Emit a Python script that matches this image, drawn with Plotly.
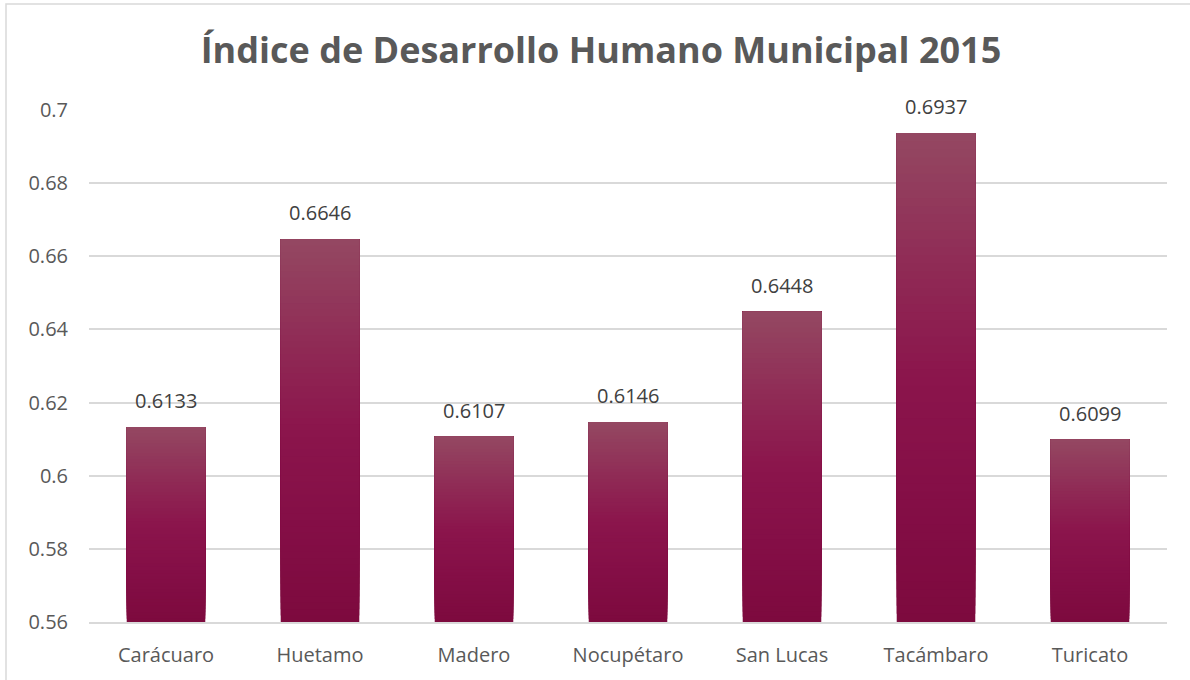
import plotly.graph_objects as go

categories = ["Carácuaro", "Huetamo", "Madero", "Nocupétaro", "San Lucas", "Tacámbaro", "Turicato"]
values = [0.6133, 0.6646, 0.6107, 0.6146, 0.6448, 0.6937, 0.6099]
y_min, y_max = 0.56, 0.70
y_ticks = [0.56, 0.58, 0.60, 0.62, 0.64, 0.66, 0.68, 0.70]
y_tick_text = ["0.56", "0.58", "0.6", "0.62", "0.64", "0.66", "0.68", "0.7"]
title = "Índice de Desarrollo Humano Municipal 2015"

FONT = "Open Sans, Lato, sans-serif"

# gradient stops: (fraction from bar bottom, rgb)
GRAD = [(0.0, (125, 10, 62)), (0.25, (132, 14, 70)), (0.5, (139, 21, 76)),
        (0.7, (143, 40, 84)), (1.0, (148, 72, 98))]


def grad_color(p):
    for (p0, c0), (p1, c1) in zip(GRAD[:-1], GRAD[1:]):
        if p <= p1:
            t = (p - p0) / (p1 - p0)
            return "rgb(%d,%d,%d)" % tuple(round(a + (b - a) * t) for a, b in zip(c0, c1))
    return "rgb(%d,%d,%d)" % GRAD[-1][1]


fig = go.Figure()
K = 60
for i in range(K):
    frac = i / K
    bases = [y_min + (v - y_min) * frac for v in values]
    fig.add_trace(go.Bar(
        x=categories, y=[v - b for v, b in zip(values, bases)], base=bases,
        marker=dict(color=grad_color((i + 0.5) / K), line=dict(width=0)),
        customdata=values,
        hovertemplate="%{x}: %{customdata}<extra></extra>" if i == 0 else None,
        hoverinfo=None if i == 0 else "skip",
    ))

for c, v in zip(categories, values):
    fig.add_annotation(x=c, y=v, text=f"{v:.4f}", showarrow=False, yanchor="bottom",
                       yshift=11, font=dict(size=20, color="#404040", family=FONT))

fig.add_shape(type="rect", xref="paper", yref="paper", x0=-0.077, x1=1.04, y0=-0.2, y1=1.207,
              line=dict(color="#D9D9D9", width=1.5), fillcolor="rgba(0,0,0,0)", layer="below")

fig.update_layout(
    width=1190, height=680,
    margin=dict(l=89, r=23, t=110, b=58),
    paper_bgcolor="white", plot_bgcolor="white",
    barmode="overlay", bargap=0.49, showlegend=False,
    title=dict(text=f"<b>{title}</b>", x=0.505, xanchor="center", y=0.926, yanchor="middle",
               font=dict(size=36, color="#595959", family=FONT)),
    font=dict(family=FONT, color="#595959", size=20),
)
fig.update_yaxes(range=[y_min, y_max], tickvals=y_ticks, ticktext=y_tick_text,
                 showgrid=True, gridcolor="#D9D9D9", gridwidth=1.5, zeroline=False,
                 showline=False, ticklabelstandoff=20, tickfont=dict(size=20, color="#595959"))
fig.update_xaxes(showgrid=False, showline=True, linecolor="#D9D9D9", linewidth=1.5,
                 ticklabelstandoff=14, tickfont=dict(size=20, color="#595959"))

fig.write_html("out.html", config={"displayModeBar": False},
               post_script="document.body.style.margin='0';")
